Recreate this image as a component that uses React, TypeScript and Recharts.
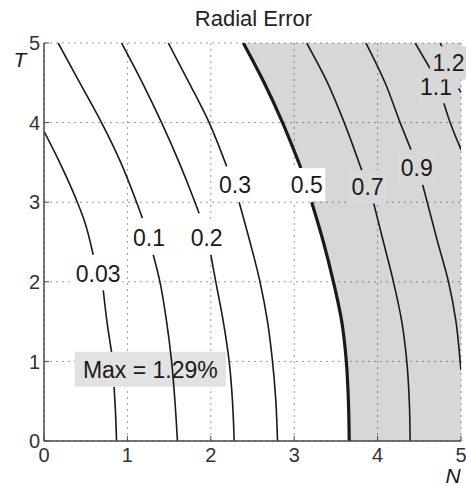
import {
  ComposedChart,
  Area,
  Line,
  XAxis,
  YAxis,
  CartesianGrid,
  ReferenceDot,
  ReferenceArea,
  Label,
} from "recharts";

type Seg = [number, number][];

const ticks = [0, 1, 2, 3, 4, 5];

// contour paths as [N, T] pairs, split where the level text breaks the line
const level003: Seg[] = [
  [[0.0, 3.89], [0.21, 3.45], [0.4, 3.0], [0.48, 2.78], [0.59, 2.34]],
  [[0.71, 1.9], [0.755, 1.5], [0.81, 1.12]],
  [[0.84, 0.68], [0.86, 0.3], [0.87, 0.0]],
];
const level01: Seg[] = [
  [[0.17, 5.0], [0.43, 4.5], [0.69, 4.0], [0.92, 3.5], [1.11, 3.0], [1.18, 2.8]],
  [[1.31, 2.34], [1.39, 2.0], [1.47, 1.5], [1.53, 1.0], [1.57, 0.5], [1.6, 0.0]],
];
const level02: Seg[] = [
  [[0.93, 5.0], [1.18, 4.5], [1.41, 4.0], [1.62, 3.5], [1.81, 3.0], [1.86, 2.86]],
  [[2.0, 2.34], [2.06, 2.0], [2.15, 1.5], [2.22, 1.0], [2.26, 0.5], [2.28, 0.0]],
];
const level03: Seg[] = [
  [[1.49, 5.0], [1.74, 4.5], [1.98, 4.0], [2.19, 3.45]],
  [[2.34, 3.0], [2.47, 2.5], [2.59, 2.0], [2.68, 1.5], [2.74, 1.0], [2.78, 0.5], [2.8, 0.0]],
];
const level05: Seg[] = [
  [[2.39, 5.0], [2.64, 4.5], [2.86, 4.0], [3.08, 3.43]],
  [[3.21, 3.0], [3.35, 2.5], [3.47, 2.0], [3.57, 1.5], [3.625, 1.0], [3.65, 0.5], [3.66, 0.0]],
];
const level07: Seg[] = [
  [[3.15, 5.0], [3.4, 4.5], [3.6, 4.0], [3.81, 3.4]],
  [[3.95, 3.0], [4.07, 2.5], [4.19, 2.0], [4.29, 1.5], [4.35, 1.0], [4.38, 0.5], [4.39, 0.0]],
];
const level09: Seg[] = [
  [[3.86, 5.0], [4.09, 4.5], [4.27, 4.0], [4.4, 3.66]],
  [[4.54, 3.22], [4.72, 2.5], [4.85, 2.0], [4.94, 1.5], [4.99, 1.0], [5.0, 0.89]],
];
const level11: Seg[] = [
  [[4.45, 5.0], [4.63, 4.68]],
  [[4.79, 4.26], [4.87, 4.0], [5.0, 3.66]],
];
const level12: Seg[] = [
  [[4.75, 5.0], [4.82, 4.85]],
  [[4.97, 4.43], [5.0, 4.38]],
];

const levels = [0.03, 0.1, 0.2, 0.3, 0.5, 0.7, 0.9, 1.1, 1.2];
const levelPaths = [level003, level01, level02, level03, level05, level07, level09, level11, level12];

// where each level value is written
const labelText = ["0.03", "0.1", "0.2", "0.3", "0.5", "0.7", "0.9", "1.1", "1.2"];
const labelN = [0.65, 1.26, 1.95, 2.29, 3.15, 3.88, 4.47, 4.7, 4.85];
const labelT = [2.1, 2.56, 2.55, 3.22, 3.22, 3.19, 3.43, 4.45, 4.75];

const maxText = "Max = 1.29%";
const maxBoxN = [0.37, 2.18];
const maxBoxT = [0.68, 1.12];

const FONT = '"Liberation Sans", Arial, Helvetica, sans-serif';
const INK = "#1a1a1a";
const FRAME = "#4a4a4a";
const SHADE = "#d8d8d8";
const LABEL_FS = 23;
const MARGIN = { top: 43, right: 5, bottom: 15, left: 14 };

const toRows = (seg: Seg) => seg.map(([n, t]) => ({ n, t }));

// area above 0.5 is shaded
const shadeRows = toRows(level05.flat());

function ContourLabel({ cx, cy, text, bg }: { cx: number; cy: number; text: string; bg: string }) {
  const w = text.length * LABEL_FS * 0.48 + 4;
  const h = LABEL_FS + 10;
  return (
    <g>
      <rect x={cx - w / 2} y={cy - h / 2} width={w} height={h} fill={bg} />
      <text x={cx} y={cy} dy="0.36em" textAnchor="middle" fontSize={LABEL_FS} fill={INK}>
        {text}
      </text>
    </g>
  );
}

const axisLine = { stroke: FRAME, strokeWidth: 1.5 };
const tickLine = { stroke: FRAME, strokeWidth: 1 };
const tickStyle = { fontSize: 20, fill: "#333" };

export default function App() {
  return (
    <div
      style={{
        position: "absolute",
        left: 0,
        top: 0,
        width: 466,
        height: 486,
        background: "#fff",
        fontFamily: FONT,
      }}
    >
      <ComposedChart width={466} height={486} layout="vertical" margin={MARGIN}>
        <CartesianGrid xAxisId="b" yAxisId="l" stroke="#9c9c9c" strokeDasharray="2 4" />
        <XAxis
          xAxisId="b"
          type="number"
          domain={[0, 5]}
          ticks={ticks}
          allowDataOverflow
          height={30}
          tickSize={-5}
          tickMargin={12}
          axisLine={axisLine}
          tickLine={tickLine}
          tick={tickStyle}
        >
          <Label
            content={(p: any) => (
              <text
                x={p.viewBox.x + p.viewBox.width - 8}
                y={p.viewBox.y + 42}
                textAnchor="middle"
                fontSize={21}
                fontStyle="italic"
                fill={INK}
              >
                N
              </text>
            )}
          />
          <Label
            content={(p: any) => (
              <text
                x={p.viewBox.x + p.viewBox.width / 2 + 1}
                y={MARGIN.top - 17}
                textAnchor="middle"
                fontSize={22}
                fill="#222"
              >
                Radial Error
              </text>
            )}
          />
        </XAxis>
        <XAxis
          xAxisId="top"
          orientation="top"
          type="number"
          domain={[0, 5]}
          ticks={ticks}
          height={0}
          tickSize={-5}
          tickFormatter={() => ""}
          axisLine={axisLine}
          tickLine={tickLine}
        />
        <YAxis
          yAxisId="l"
          dataKey="t"
          type="number"
          domain={[0, 5]}
          ticks={ticks}
          reversed
          allowDataOverflow
          width={30}
          tickSize={-5}
          tickMargin={9}
          axisLine={axisLine}
          tickLine={tickLine}
          tick={tickStyle}
        >
          <Label
            content={(p: any) => (
              <text
                x={p.viewBox.x + 6}
                y={p.viewBox.y + 24}
                textAnchor="middle"
                fontSize={21}
                fontStyle="italic"
                fill={INK}
              >
                T
              </text>
            )}
          />
        </YAxis>
        <YAxis
          yAxisId="right"
          orientation="right"
          type="number"
          domain={[0, 5]}
          ticks={ticks}
          reversed
          width={0}
          tickSize={-5}
          tickFormatter={() => ""}
          axisLine={axisLine}
          tickLine={tickLine}
        />

        <Area
          data={shadeRows}
          xAxisId="b"
          yAxisId="l"
          dataKey="n"
          baseValue={5}
          type="monotone"
          stroke="none"
          fill="#000"
          fillOpacity={0.155}
          isAnimationActive={false}
        />

        {levelPaths.flatMap((segs, i) =>
          segs.map((seg, j) => (
            <Line
              key={`c${i}-${j}`}
              data={toRows(seg)}
              xAxisId="b"
              yAxisId="l"
              dataKey="n"
              type="monotone"
              stroke={INK}
              strokeWidth={levels[i] === 0.5 ? 3.2 : 1.6}
              dot={false}
              activeDot={false}
              isAnimationActive={false}
            />
          ))
        )}

        <ReferenceArea
          xAxisId="b"
          yAxisId="l"
          x1={maxBoxN[0]}
          x2={maxBoxN[1]}
          y1={maxBoxT[0]}
          y2={maxBoxT[1]}
          fill="#e2e2e2"
          fillOpacity={1}
          stroke="none"
          label={{ value: maxText, position: "center", fontSize: 23, fill: INK }}
        />

        {labelText.map((text, i) => (
          <ReferenceDot
            key={text}
            xAxisId="b"
            yAxisId="l"
            x={labelN[i]}
            y={labelT[i]}
            r={1}
            shape={(p: any) => (
              <ContourLabel cx={p.cx} cy={p.cy} text={text} bg={levels[i] > 0.5 ? SHADE : "#fff"} />
            )}
          />
        ))}
      </ComposedChart>
    </div>
  );
}
